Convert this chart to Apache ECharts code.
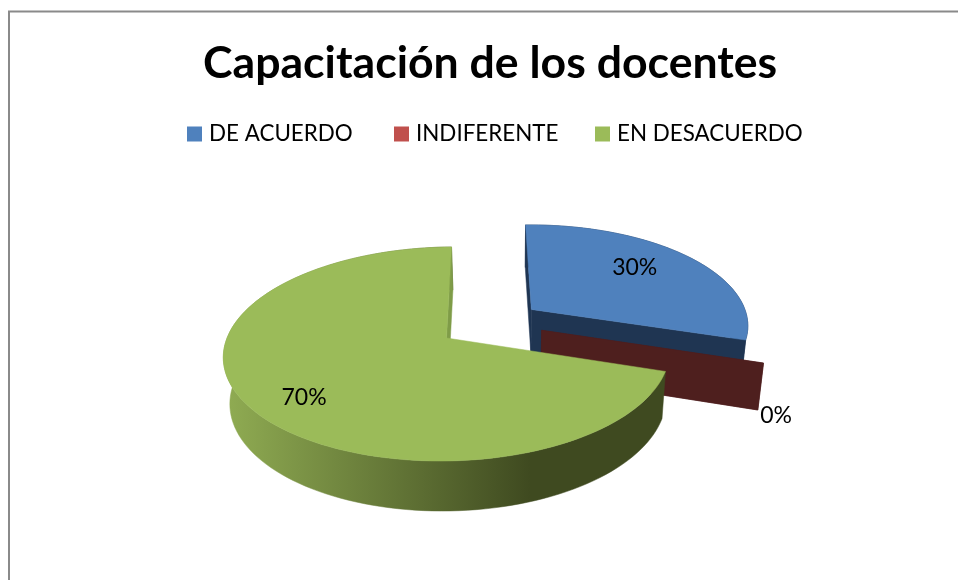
<!DOCTYPE html>
<html><head><meta charset="utf-8">
<style>html,body{margin:0;padding:0;background:#fff}#c{width:958px;height:580px}</style>
<script src="https://cdn.jsdelivr.net/npm/echarts@6/dist/echarts.min.js"></script>
</head><body><div id="c"></div>
<script>
const titleText = 'Capacitación de los docentes';
const categories = ['DE ACUERDO', 'INDIFERENTE', 'EN DESACUERDO'];
const values = [30, 0, 70];
const labels = ['30%', '0%', '70%'];
const topColors = ['#4f81bd', '#c0504d', '#9bbb59'];
const wallColors = ['#1f3552', '#4e1f1e', '#7f9c48'];
// explosion of each slice on the disc (disc radius = 1)
const explode = [[0.40, 0.27], [0.435, 0.06], [0, 0]];
// label anchor relative to each slice's apex, on the disc
const labelAnchors = [[0.544, 0.444], [0.901, -0.765], [-0.597, -0.504]];
const legendLefts = [187, 394, 595];

const START_DEG = 88.5;
const topPlane = {cx: 446.5, cy: 338, c: 220.7, a: 104.6, b: 0.1495, s: 3.5};
const botPlane = {cx: 448, cy: 384, c: 215.7, a: 108, b: 0.1495, s: 3.5};
function project(pl, X, Y) {
  const d = 1 + pl.b * Y;
  return [pl.cx + pl.c * X / d, pl.cy - pl.a * Y / d - pl.s * X];
}
const total = values.reduce((s, v) => s + v, 0);
function sliceAngles(i) {
  let before = 0;
  for (let k = 0; k < i; k++) before += values[k];
  const a0 = START_DEG - before / total * 360;
  return [a0, a0 - values[i] / total * 360];
}
function arcPts(pl, ex, a0, a1) {
  const n = Math.max(2, Math.ceil(Math.abs(a1 - a0) / 2));
  const pts = [];
  for (let k = 0; k <= n; k++) {
    const t = (a0 + (a1 - a0) * k / n) * Math.PI / 180;
    pts.push(project(pl, ex[0] + Math.cos(t), ex[1] + Math.sin(t)));
  }
  return pts;
}
const greenRim = {
  type: 'linear', global: true, x: 228, y: 0, x2: 530, y2: 0,
  colorStops: [{offset: 0, color: '#8fab52'}, {offset: 1, color: '#3f4a20'}]
};
function renderSlice(i) {
  return function () {
    const ex = explode[i];
    const [a0, a1] = sliceAngles(i);
    const topArc = arcPts(topPlane, ex, a0, a1);
    const botArc = arcPts(botPlane, ex, a0, a1);
    const tA = project(topPlane, ex[0], ex[1]);
    const bA = project(botPlane, ex[0], ex[1]);
    const kids = [];
    const poly = (points, fill) => kids.push({type: 'polygon', shape: {points}, style: {fill, stroke: fill, lineWidth: 0.5}});
    const wall = wallColors[i];
    // outer rim first, then flat radial walls, then the top face
    if (values[i] > 0) poly(topArc.concat(botArc.slice().reverse()), i === 2 ? greenRim : wall);
    if (i !== 2) poly([tA, topArc[0], botArc[0], bA], wall);
    poly([tA, topArc[topArc.length - 1], botArc[botArc.length - 1], bA], wall);
    if (values[i] > 0) poly([tA].concat(topArc), topColors[i]);
    // value label
    const la = labelAnchors[i];
    const lp = project(topPlane, ex[0] + la[0], ex[1] + la[1]);
    kids.push({type: 'text', x: lp[0], y: lp[1], z2: 50,
      style: {text: labels[i], fill: '#000', font: '23px Lato', align: 'center', verticalAlign: 'middle'}});
    return {type: 'group', children: kids};
  };
}
const series = categories.map((name, i) => ({
  type: 'custom', name, coordinateSystem: 'none', silent: true, animation: false,
  z: i === 2 ? 3 : (i === 1 ? 2 : 1),
  itemStyle: {color: topColors[i]},
  data: [values[i]], renderItem: renderSlice(i)
}));
const chart = echarts.init(document.getElementById('c'), null, {renderer: 'canvas'});
chart.setOption({
  animation: false,
  backgroundColor: '#fff',
  title: {text: titleText, left: 203, top: 41, padding: 0,
    textStyle: {fontFamily: 'Lato', fontWeight: 'bold', fontSize: 44.6, color: '#000'}},
  legend: categories.map((name, i) => ({
    data: [name], top: 123, left: legendLefts[i], padding: 0, icon: 'rect', itemWidth: 15, itemHeight: 15,
    selectedMode: false,
    textStyle: {fontFamily: 'Lato', fontSize: 22.4, color: '#000', padding: [0, 0, 0, 2]}
  })),
  graphic: [
    {type: 'polyline', silent: true, shape: {points: [[9, 580], [9, 11.5], [958, 11.5]]},
      style: {fill: null, stroke: '#8a8a8a', lineWidth: 2}}
  ],
  series
});
</script></body></html>
